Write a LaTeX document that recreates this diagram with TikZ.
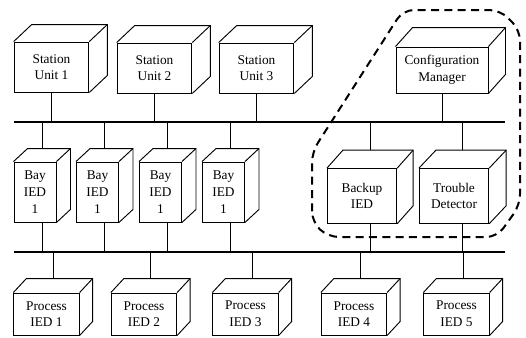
\documentclass[tikz,border=0pt]{standalone}
\usepackage{fontspec}
\setmainfont{Liberation Serif}
\usepackage{tikz}

\begin{document}
\begin{tikzpicture}[
		x=0.75pt, y=-0.75pt,
		every node/.style={rectangle, draw, fill=white, align=center, inner sep=0pt,
			font=\fontsize{10}{12.5}\selectfont, line width=0.7pt},
		station/.style={minimum width=56pt, minimum height=37.5pt},
		manager/.style={minimum width=69pt, minimum height=34.5pt},
		bay/.style={minimum width=31.5pt, minimum height=45pt},
		spare/.style={minimum width=52pt, minimum height=41pt},
		process/.style={minimum width=49pt, minimum height=31.5pt},
		bus/.style={line width=2.2pt},
		link/.style={line width=0.6pt},
		group/.style={line width=1.5pt, dash pattern=on 6pt off 4pt, rounded corners=8}
	]
  \useasboundingbox (0,0) rectangle (526,337);

  % station level
  \node (su1) [station] at (51.5, 67) {Station\\Unit 1};
  \node (su2) [station] at (154.5, 68) {Station\\Unit 2};
  \node (su3) [station] at (256.5, 68) {Station\\Unit 3};
  \node (cm) [manager] at (442, 70) {Configuration\\Manager};

  % bay level
  \node (bay1) [bay] at (35, 192) {Bay\\IED\\1};
  \node (bay2) [bay] at (97.5, 192) {Bay\\IED\\1};
  \node (bay3) [bay] at (160.5, 192) {Bay\\IED\\1};
  \node (bay4) [bay] at (223.5, 192) {Bay\\IED\\1};
  \node (backup) [spare] at (362, 196) {Backup\\IED};
  \node (trouble) [spare] at (454, 196) {Trouble\\Detector};

  % process level
  \node (pied1) [process] at (46.5, 314) {Process\\IED 1};
  \node (pied2) [process] at (144, 314) {Process\\IED 2};
  \node (pied3) [process] at (245.5, 314) {Process\\IED 3};
  \node (pied4) [process] at (354, 314) {Process\\IED 4};
  \node (pied5) [process] at (456.5, 314) {Process\\IED 5};

  % top and side faces of the boxes
  \foreach \n/\dx/\dy in {su1/18/17, su2/18/17, su3/18/17, cm/17/19,
      bay1/14/13, bay2/14/13, bay3/14/13, bay4/14/13, backup/16/18, trouble/17/18,
      pied1/13/14, pied2/13/14, pied3/13/14, pied4/13/14, pied5/13/14} {
    \draw [line width=0.7pt] (\n.north west) -- ++(\dx,-\dy)
      -| ([shift={(\dx,-\dy)}]\n.south east) -- (\n.south east);
    \draw [line width=0.7pt] (\n.north east) -- ++(\dx,-\dy);
    \coordinate (\n-top) at ([shift={(\dx/2,-\dy)}]\n.north);
  }

  % the two buses
  \coordinate (ubw) at (14, 122);
  \coordinate (ube) at (505, 122);
  \coordinate (lbw) at (14, 252);
  \coordinate (lbe) at (505, 252);
  \draw [bus] (ubw) -- (ube);
  \draw [bus] (lbw) -- (lbe);

  % station bus taps
  \draw [link] (su1) -- (su1 |- ubw);
  \draw [link] (su2) -- (su2 |- ubw);
  \draw [link] (su3) -- (su3 |- ubw);
  \draw [link] (cm) -- (cm |- ubw);

  % bay units sit on both buses
  \foreach \n in {bay1, bay2, bay3, bay4, backup, trouble} {
    \draw [link] (\n-top) -- (\n-top |- ubw);
    \draw [link] (\n-top |- \n.south) -- (\n-top |- lbw);
  }

  % process bus taps
  \foreach \n in {pied1, pied2, pied3, pied4, pied5}
    \draw [link] (\n-top) -- (\n-top |- lbw);

  % dashed group round the extra units
  \draw [group] (312, 222) -- (312, 152) -- (403, 10) -- (500, 10) -- (520, 30)
    -- (520, 205) -- (497, 237) -- (328, 237) -- cycle;
\end{tikzpicture}
\end{document}
